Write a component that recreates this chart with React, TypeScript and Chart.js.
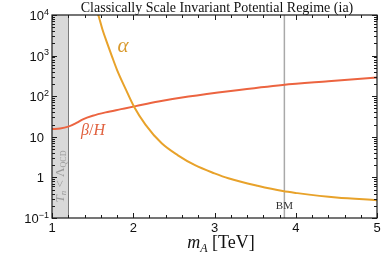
import React, { useEffect, useRef } from "react";
import { Chart, registerables } from "chart.js";

Chart.register(...registerables);

// ---- data ----
const alphaMass = [1.53, 1.57, 1.62, 1.68, 1.74, 1.8, 1.91, 2.01, 2.15, 2.35, 2.55, 2.76, 3.0, 3.17, 3.53, 3.84, 4.02, 4.5, 5.0];
const alphaValues = [17800, 10000, 4470, 2000, 933, 447, 145, 55, 20, 6.9, 3.5, 2.0, 1.26, 0.95, 0.62, 0.46, 0.41, 0.32, 0.275];
const betaMass = [1.0, 1.1, 1.2, 1.3, 1.38, 1.5, 1.66, 1.85, 2.03, 2.31, 2.68, 3.2, 3.84, 4.4, 5.0];
const betaValues = [15.5, 16, 17.8, 22, 27, 33, 40, 48, 57, 74, 98, 135, 190, 234, 290];
const xTickValues = [1, 2, 3, 4, 5];
const yDecades = [-1, 0, 1, 2, 3, 4];
const qcdBoundMass = 1.2;
const benchmarkMass = 3.86;
const titleText = "Classically Scale Invariant Potential Regime (ia)";

const ALPHA_COLOR = "#E8A22A";
const BETA_COLOR = "#EC6440";
const SANS = '"Liberation Sans", Arial, sans-serif';
const SERIF = '"Liberation Serif", "Times New Roman", serif';

type Seg = { text: string; font: string; dy: number };

function drawSegs(ctx: CanvasRenderingContext2D, segs: Seg[], cx: number, y: number) {
  let total = 0;
  for (const s of segs) {
    ctx.font = s.font;
    total += ctx.measureText(s.text).width;
  }
  let x = cx - total / 2;
  for (const s of segs) {
    ctx.font = s.font;
    ctx.fillText(s.text, x, y + s.dy);
    x += ctx.measureText(s.text).width;
  }
}

const decorPlugin = {
  id: "decor",
  beforeDatasetsDraw(chart: any) {
    const { ctx, chartArea } = chart;
    const xs = chart.scales.x;
    const { top, bottom } = chartArea;
    ctx.save();
    // shaded region T_n < Λ_QCD
    const x0 = xs.getPixelForValue(1);
    const x1 = xs.getPixelForValue(qcdBoundMass);
    ctx.fillStyle = "#d9d9d9";
    ctx.fillRect(x0, top, x1 - x0, bottom - top);
    ctx.strokeStyle = "#7a7a7a";
    ctx.lineWidth = 1;
    ctx.beginPath();
    ctx.moveTo(Math.round(x1) + 0.5, top);
    ctx.lineTo(Math.round(x1) + 0.5, bottom);
    ctx.stroke();
    // benchmark line
    const xb = xs.getPixelForValue(benchmarkMass);
    ctx.strokeStyle = "#a9a9a9";
    ctx.lineWidth = 1.5;
    ctx.beginPath();
    ctx.moveTo(xb, top);
    ctx.lineTo(xb, bottom);
    ctx.stroke();
    ctx.restore();
  },
  afterDatasetsDraw(chart: any) {
    const { ctx, chartArea } = chart;
    const xs = chart.scales.x;
    const ys = chart.scales.y;
    const { left, right, top, bottom } = chartArea;
    ctx.save();
    // frame
    ctx.strokeStyle = "#1a1a1a";
    ctx.lineWidth = 1.2;
    ctx.strokeRect(left, top, right - left, bottom - top);

    // ticks
    ctx.lineWidth = 1;
    ctx.beginPath();
    for (let v = 1; v <= 5.0001; v += 0.2) {
      const px = Math.round(xs.getPixelForValue(v)) + 0.5;
      const major = Math.abs(v - Math.round(v)) < 1e-6;
      const len = major ? 5 : 3;
      ctx.moveTo(px, bottom);
      ctx.lineTo(px, bottom - len);
      ctx.moveTo(px, top);
      ctx.lineTo(px, top + len);
    }
    for (const d of yDecades) {
      for (let k = 1; k <= 9; k++) {
        if (d === 4 && k > 1) break;
        const py = Math.round(ys.getPixelForValue(k * Math.pow(10, d))) + 0.5;
        const len = k === 1 ? 5 : 3;
        ctx.moveTo(left, py);
        ctx.lineTo(left + len, py);
        ctx.moveTo(right, py);
        ctx.lineTo(right - len, py);
      }
    }
    ctx.stroke();

    // x tick labels
    ctx.fillStyle = "#111";
    ctx.font = `13px ${SANS}`;
    ctx.textAlign = "center";
    ctx.textBaseline = "middle";
    for (const v of xTickValues) {
      ctx.fillText(String(v), xs.getPixelForValue(v), 228);
    }

    // y tick labels
    ctx.textBaseline = "alphabetic";
    ctx.textAlign = "left";
    for (const d of yDecades) {
      const py = ys.getPixelForValue(Math.pow(10, d));
      if (d === 0 || d === 1) {
        const t = d === 0 ? "1" : "10";
        ctx.font = `13px ${SANS}`;
        const w = ctx.measureText(t).width;
        ctx.fillText(t, 44 - w, py + 5);
      } else {
        const sup = d < 0 ? "\u2212" + String(-d) : String(d);
        ctx.font = `9px ${SANS}`;
        const ws = ctx.measureText(sup).width;
        ctx.font = `13px ${SANS}`;
        const wb = ctx.measureText("10").width;
        const x0 = 49 - ws - wb;
        ctx.fillText("10", x0, py + 5);
        ctx.font = `9px ${SANS}`;
        ctx.fillText(sup, x0 + wb, py - 0.5);
      }
    }

    // title
    ctx.textAlign = "left";
    ctx.fillStyle = "#111";
    drawSegs(ctx, [{ text: titleText, font: `14px ${SERIF}`, dy: 0 }], 217, 11.5);

    // x-axis title m_A [TeV]
    drawSegs(
      ctx,
      [
        { text: "m", font: `italic 18px ${SERIF}`, dy: 0 },
        { text: "A", font: `italic 12px ${SERIF}`, dy: 4 },
        { text: " [TeV]", font: `18px ${SERIF}`, dy: 0 },
      ],
      221,
      248
    );

    // alpha label
    ctx.fillStyle = "#D99A2E";
    ctx.textBaseline = "middle";
    drawSegs(ctx, [{ text: "\u03B1", font: `italic 21px ${SERIF}`, dy: 0 }], 123, 46);

    // beta/H label
    ctx.fillStyle = "#E0603E";
    drawSegs(
      ctx,
      [
        { text: "\u03B2", font: `italic 16px ${SERIF}`, dy: 0 },
        { text: "/", font: `16px ${SERIF}`, dy: 0 },
        { text: "H", font: `italic 16px ${SERIF}`, dy: 0 },
      ],
      93,
      131
    );

    // BM label
    ctx.fillStyle = "#333";
    drawSegs(ctx, [{ text: "BM", font: `11px ${SERIF}`, dy: 0 }], xs.getPixelForValue(benchmarkMass), 206.5);

    // rotated T_n < Λ_QCD
    ctx.save();
    ctx.translate(61, 176.5);
    ctx.rotate(-Math.PI / 2);
    ctx.fillStyle = "#9a9a9a";
    drawSegs(
      ctx,
      [
        { text: "T", font: `italic 13px ${SERIF}`, dy: 0 },
        { text: "n", font: `italic 9px ${SERIF}`, dy: 3 },
        { text: " < \u039B", font: `13px ${SERIF}`, dy: 0 },
        { text: "QCD", font: `8px ${SERIF}`, dy: 3 },
      ],
      0,
      0
    );
    ctx.restore();

    ctx.restore();
  },
};

export default function App() {
  const ref = useRef<HTMLCanvasElement | null>(null);
  useEffect(() => {
    document.body.style.margin = "0";
    const canvas = ref.current;
    if (!canvas) return;
    const chart = new Chart(canvas, {
      type: "line",
      data: {
        datasets: [
          {
            label: "alpha",
            data: alphaMass.map((x, i) => ({ x, y: alphaValues[i] })),
            borderColor: ALPHA_COLOR,
            borderWidth: 2,
            pointRadius: 0,
            cubicInterpolationMode: "monotone",
            fill: false,
          },
          {
            label: "beta/H",
            data: betaMass.map((x, i) => ({ x, y: betaValues[i] })),
            borderColor: BETA_COLOR,
            borderWidth: 2,
            pointRadius: 0,
            cubicInterpolationMode: "monotone",
            fill: false,
          },
        ],
      },
      options: {
        animation: false,
        responsive: false,
        devicePixelRatio: 1,
        layout: { padding: { top: 15, right: 6, left: 0, bottom: 0 } },
        plugins: { legend: { display: false }, tooltip: { enabled: false }, title: { display: false } },
        scales: {
          x: {
            type: "linear",
            min: 1,
            max: 5,
            grid: { display: false },
            border: { display: false },
            ticks: { display: false },
            afterFit: (s: any) => {
              s.height = 42;
            },
          },
          y: {
            type: "logarithmic",
            min: 0.1,
            max: 10000,
            grid: { display: false },
            border: { display: false },
            ticks: { display: false },
            afterFit: (s: any) => {
              s.width = 52;
            },
          },
        },
      },
      plugins: [decorPlugin],
    } as any);
    return () => chart.destroy();
  }, []);
  return (
    <div style={{ position: "absolute", left: 0, top: 0, width: 383, height: 260, background: "#fff" }}>
      <canvas ref={ref} width={383} height={260} style={{ display: "block" }} />
    </div>
  );
}
